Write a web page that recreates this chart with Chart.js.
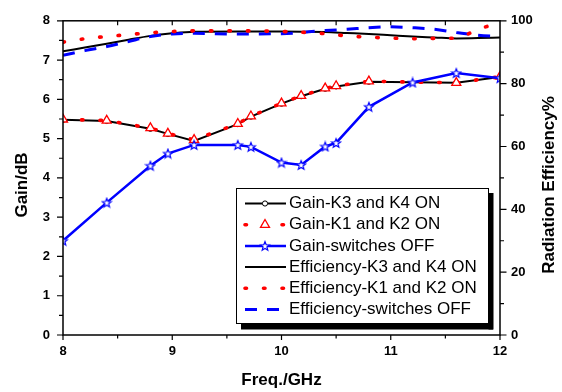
<!DOCTYPE html>
<html>
<head>
<meta charset="utf-8">
<script src="https://cdn.jsdelivr.net/npm/chart.js@4.4.0/dist/chart.umd.min.js"></script>
<style>
  html, body { margin: 0; padding: 0; background: #fff; }
  #wrap { width: 562px; height: 392px; }
</style>
</head>
<body>
<div id="wrap"><canvas id="chart" width="562" height="392"></canvas></div>
<script>
// gain curves (left axis, dB)
const freqK = [8, 8.4, 8.8, 8.96, 9.2, 9.6, 9.72, 10, 10.18, 10.4, 10.5, 10.8, 11.6, 12];
const gainK34 = [5.48, 5.45, 5.25, 5.12, 4.94, 5.37, 5.56, 5.89, 6.08, 6.27, 6.33, 6.45, 6.42, 6.57];
const gainK12 = [5.49, 5.46, 5.27, 5.13, 4.97, 5.38, 5.57, 5.90, 6.09, 6.28, 6.34, 6.46, 6.42, 6.58];
const freqOff = [8, 8.4, 8.8, 8.96, 9.2, 9.6, 9.72, 10, 10.18, 10.4, 10.5, 10.8, 11.2, 11.6, 12];
const gainOff = [2.40, 3.37, 4.31, 4.62, 4.84, 4.84, 4.79, 4.39, 4.33, 4.80, 4.89, 5.81, 6.43, 6.67, 6.54];

// efficiency curves (right axis, %)
const freqEff = [8, 8.2, 8.4, 8.6, 8.8, 9.0, 9.2, 9.6, 10.0, 10.4, 10.6, 10.8, 11.0, 11.2, 11.4, 11.6, 11.8, 12];
const effK34 = [90.3, 91.5, 92.7, 94.0, 95.2, 96.0, 96.5, 96.6, 96.6, 96.4, 96.1, 95.8, 95.4, 95.0, 94.7, 94.4, 94.5, 94.7];
const effK12 = [93.2, 94.3, 95.0, 95.6, 96.2, 96.6, 96.8, 96.8, 96.6, 95.9, 95.2, 94.8, 94.5, 94.3, 94.4, 94.5, 97.3, 99.4];
const effOff = [89.0, 90.5, 91.8, 93.4, 95.0, 95.8, 96.0, 95.8, 95.9, 96.9, 97.3, 97.8, 98.1, 97.8, 97.3, 96.3, 95.4, 95.0];

const labels = [
  'Gain-K3 and K4 ON', 'Gain-K1 and K2 ON', 'Gain-switches OFF',
  'Efficiency-K3 and K4 ON', 'Efficiency-K1 and K2 ON', 'Efficiency-switches OFF'
];

const FONT = '"Liberation Sans", Arial, sans-serif';
Chart.defaults.font.family = FONT;
Chart.defaults.color = '#000';

function pts(xs, ys) { return xs.map((x, i) => ({ x: x, y: ys[i] })); }

// open star marker
function starImage(color) {
  const c = document.createElement('canvas');
  c.width = 12; c.height = 12;
  const g = c.getContext('2d');
  g.beginPath();
  for (let i = 0; i < 10; i++) {
    const r = i % 2 === 0 ? 4.7 : 2.0;
    const a = -Math.PI / 2 + i * Math.PI / 5;
    const px = 6 + r * Math.cos(a), py = 6.4 + r * Math.sin(a);
    if (i === 0) g.moveTo(px, py); else g.lineTo(px, py);
  }
  g.closePath();
  g.fillStyle = '#fff'; g.fill();
  g.strokeStyle = color; g.lineWidth = 1.2; g.stroke();
  return c;
}
const star = starImage('#0000ff');

const frame = {
  id: 'frame',
  afterDraw(chart) {
    const ctx = chart.ctx;
    const a = chart.chartArea;
    const x = chart.scales.x, y = chart.scales.y, y1 = chart.scales.y1;
    ctx.save();
    ctx.strokeStyle = '#000';
    ctx.lineWidth = 1.5;
    ctx.strokeRect(a.left, a.top, a.right - a.left, a.bottom - a.top);
    ctx.lineWidth = 1.2;
    ctx.beginPath();
    for (let v = 8; v <= 12.001; v += 0.5) {
      const px = x.getPixelForValue(v);
      const major = Math.abs(v - Math.round(v)) < 1e-6;
      ctx.moveTo(px, a.bottom); ctx.lineTo(px, a.bottom + (major ? 5 : 3.5));
      if (v > 8 && v < 12) { ctx.moveTo(px, a.top); ctx.lineTo(px, a.top + 4.5); }
    }
    for (let v = 0; v <= 8.001; v += 0.5) {
      const py = y.getPixelForValue(v);
      const major = Math.abs(v - Math.round(v)) < 1e-6;
      ctx.moveTo(a.left, py); ctx.lineTo(a.left - (major ? 6 : 4), py);
    }
    for (let v = 0; v <= 100; v += 10) {
      const py = y1.getPixelForValue(v);
      ctx.moveTo(a.right, py); ctx.lineTo(a.right + (v % 20 === 0 ? 6.5 : 4), py);
    }
    ctx.stroke();

    // vertical axis titles
    ctx.font = 'bold 17px ' + FONT;
    ctx.fillStyle = '#000';
    ctx.textAlign = 'center';
    ctx.textBaseline = 'middle';
    ctx.save(); ctx.translate(22, 185); ctx.rotate(-Math.PI / 2); ctx.fillText('Gain/dB', 0, 0); ctx.restore();
    ctx.save(); ctx.translate(549, 185); ctx.rotate(-Math.PI / 2); ctx.fillText('Radiation Efficiency%', 0, 0); ctx.restore();

    // legend box with shadow
    ctx.fillStyle = '#000';
    ctx.fillRect(241, 323.5, 252, 6);
    ctx.fillRect(488.5, 193, 5, 136.5);
    ctx.fillStyle = '#fff';
    ctx.fillRect(236.5, 188.5, 252, 135);
    ctx.lineWidth = 1;
    ctx.strokeStyle = '#000';
    ctx.strokeRect(236.5, 188.5, 252, 135);

    ctx.font = '17px ' + FONT;
    ctx.textAlign = 'left';
    chart.data.datasets.forEach((ds, i) => {
      const ly = 203.5 + i * 21.2;
      ctx.save();
      ctx.strokeStyle = ds.borderColor;
      ctx.lineWidth = ds.borderWidth;
      ctx.lineCap = ds.borderCapStyle || 'butt';
      ctx.setLineDash(ds.borderDash || []);
      ctx.beginPath(); ctx.moveTo(245, ly); ctx.lineTo(286, ly); ctx.stroke();
      ctx.restore();
      if (ds.pointRadius > 0) {
        ctx.save();
        ctx.fillStyle = ds.pointBackgroundColor;
        ctx.strokeStyle = ds.pointBorderColor;
        ctx.lineWidth = ds.pointBorderWidth;
        Chart.helpers.drawPoint(ctx, {
          pointStyle: ds.pointStyle, radius: ds.pointRadius,
          borderWidth: ds.pointBorderWidth, rotation: 0
        }, 265, ly);
        ctx.restore();
      }
      ctx.fillStyle = '#000';
      ctx.fillText(ds.label, 289, ly);
    });
    ctx.restore();
  }
};

new Chart(document.getElementById('chart'), {
  type: 'line',
  data: {
    datasets: [
      {
        label: labels[0], data: pts(freqK, gainK34), yAxisID: 'y', order: 2,
        borderColor: '#000', borderWidth: 2, tension: 0,
        pointStyle: 'circle', pointRadius: 2.6, pointBorderWidth: 1,
        pointBackgroundColor: '#fff', pointBorderColor: '#000'
      },
      {
        label: labels[1], data: pts(freqK, gainK12), yAxisID: 'y', order: 1,
        borderColor: '#ff0000', borderWidth: 3.6, borderDash: [1.5, 17], borderCapStyle: 'round', tension: 0,
        pointStyle: 'triangle', pointRadius: 5.2, pointBorderWidth: 1.3,
        pointBackgroundColor: '#fff', pointBorderColor: '#ff0000'
      },
      {
        label: labels[2], data: pts(freqOff, gainOff), yAxisID: 'y', order: 0,
        borderColor: '#0000ff', borderWidth: 2.5, tension: 0,
        pointStyle: star, pointRadius: 5, pointBorderWidth: 1.2,
        pointBackgroundColor: '#fff', pointBorderColor: '#0000ff'
      },
      {
        label: labels[3], data: pts(freqEff, effK34), yAxisID: 'y1', order: 5,
        borderColor: '#000', borderWidth: 2, pointRadius: 0,
        cubicInterpolationMode: 'monotone'
      },
      {
        label: labels[4], data: pts(freqEff, effK12), yAxisID: 'y1', order: 3,
        borderColor: '#ff0000', borderWidth: 3.6, borderDash: [1.5, 17], borderCapStyle: 'round', pointRadius: 0,
        cubicInterpolationMode: 'monotone'
      },
      {
        label: labels[5], data: pts(freqEff, effOff), yAxisID: 'y1', order: 4,
        borderColor: '#0000ff', borderWidth: 3, borderDash: [12, 10], pointRadius: 0,
        cubicInterpolationMode: 'monotone'
      }
    ]
  },
  options: {
    responsive: false,
    animation: false,
    events: [],
    layout: { padding: { top: 13, left: 0, right: 0, bottom: 0 } },
    plugins: { legend: { display: false }, tooltip: { enabled: false } },
    scales: {
      x: {
        type: 'linear', min: 8, max: 12,
        grid: { display: false, drawTicks: false },
        border: { display: false },
        ticks: { stepSize: 1, padding: 9, font: { size: 13, weight: 'bold' }, maxRotation: 0 },
        title: { display: true, text: 'Freq./GHz', font: { size: 17, weight: 'bold' }, padding: { top: 0, bottom: 1 } },
        afterFit(s) { s.height = 57; }
      },
      y: {
        position: 'left', min: 0, max: 8,
        grid: { display: false, drawTicks: false },
        border: { display: false },
        ticks: { stepSize: 1, padding: 13, font: { size: 13, weight: 'bold' } },
        afterFit(s) { s.width = 63; }
      },
      y1: {
        position: 'right', min: 0, max: 100,
        grid: { display: false, drawTicks: false },
        border: { display: false },
        ticks: { stepSize: 20, padding: 11, font: { size: 13, weight: 'bold' } },
        afterFit(s) { s.width = 62; }
      }
    }
  },
  plugins: [frame]
});
</script>
</body>
</html>
